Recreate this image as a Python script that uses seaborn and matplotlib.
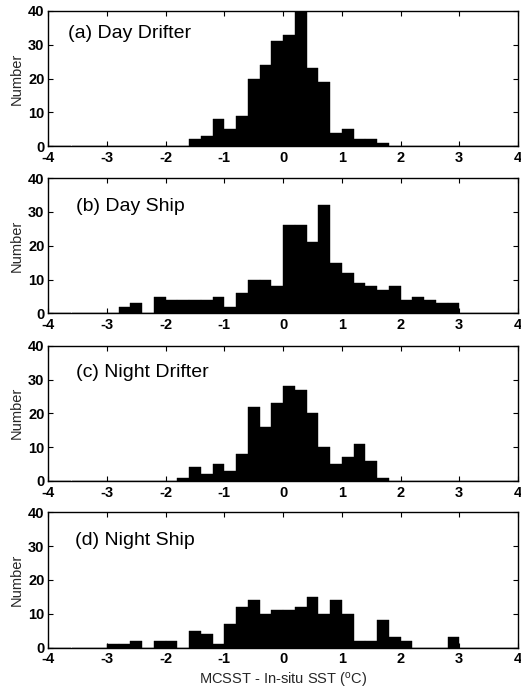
import numpy as np
import pandas as pd
import matplotlib
matplotlib.use("Agg")
import matplotlib.pyplot as plt
import seaborn as sns

# ---- data (counts per 0.2 degC bin, starting at the given lower edge) ----
panel_titles = ["(a) Day Drifter", "(b) Day Ship", "(c) Night Drifter", "(d) Night Ship"]

day_drifter_start = -1.6
day_drifter_counts = [2, 3, 8, 5, 9, 20, 24, 31, 33, 41, 23, 19, 4, 5, 2, 2, 1]

day_ship_start = -2.8
day_ship_counts = [2, 3, 0, 5, 4, 4, 4, 4, 5, 2, 6, 10, 10, 8, 26, 26, 21, 32,
                   15, 12, 9, 8, 7, 8, 4, 5, 4, 3, 3]

night_drifter_start = -1.8
night_drifter_counts = [1, 4, 2, 5, 3, 8, 22, 16, 23, 28, 27, 20, 10, 5, 7, 11, 6, 1]

night_ship_start = -3.0
night_ship_counts = [1, 1, 2, 0, 2, 2, 0, 5, 4, 1, 7, 12, 14, 10, 11, 11, 12, 15,
                     10, 14, 10, 2, 2, 8, 3, 2, 0, 0, 0, 3]

bin_width = 0.2
x_ticks = [-4, -3, -2, -1, 0, 1, 2, 3, 4]
y_ticks = [0, 10, 20, 30, 40]
x_label = "MCSST - In-situ SST ($\\mathregular{^{o}}$C)"
y_label = "Number"

series = [
    (day_drifter_start, day_drifter_counts),
    (day_ship_start, day_ship_counts),
    (night_drifter_start, night_drifter_counts),
    (night_ship_start, night_ship_counts),
]

# ---- style ----
sns.set_style("ticks")
plt.rcParams["font.family"] = ["Liberation Sans", "DejaVu Sans"]
plt.rcParams["mathtext.fontset"] = "custom"
plt.rcParams["mathtext.rm"] = "Liberation Sans"

fig = plt.figure(figsize=(5.21, 6.93), dpi=100)

W, H = 521.0, 693.0
left_px, right_px = 48.0, 518.0
panel_px = [(11.0, 146.0), (178.0, 313.5), (345.7, 481.0), (512.3, 647.5)]
text_pos = [(0.042, 0.835), (0.060, 0.79), (0.060, 0.80), (0.058, 0.79)]

for i, ((start, counts), (top, bot)) in enumerate(zip(series, panel_px)):
    ax = fig.add_axes([left_px / W, 1 - bot / H, (right_px - left_px) / W, (bot - top) / H])
    centers = [start + bin_width * (k + 0.5) for k in range(len(counts))]
    df = pd.DataFrame({"x": centers, "n": counts})
    sns.histplot(data=df, x="x", weights="n", binwidth=bin_width, binrange=(-4, 4),
                 color="black", alpha=1.0, edgecolor="black", linewidth=0.3, ax=ax)
    ax.set_xlim(-4, 4)
    ax.set_ylim(0, 40)
    ax.set_xticks(x_ticks)
    ax.set_yticks(y_ticks)
    ax.set_xticklabels([str(t) for t in x_ticks], fontsize=10.5, fontweight="bold")
    ax.set_yticklabels([str(t) for t in y_ticks], fontsize=10.5, fontweight="bold")
    ax.tick_params(direction="in", length=3.5, width=0.8, top=True, right=True,
                   color="black", labelcolor="black")
    ax.tick_params(axis="x", pad=3.5)
    ax.tick_params(axis="y", pad=2.5)
    for s in ax.spines.values():
        s.set_visible(True)
        s.set_color("black")
        s.set_linewidth(1.0)
    ax.set_ylabel(y_label, fontsize=10.5, labelpad=3)
    ax.set_xlabel("")
    ax.text(text_pos[i][0], text_pos[i][1], panel_titles[i], transform=ax.transAxes,
            fontsize=14, va="center", ha="left", color="black")
    if i == 3:
        ax.set_xlabel(x_label, fontsize=10.5, labelpad=3)

fig.savefig("out.png", dpi=100, facecolor="white")
